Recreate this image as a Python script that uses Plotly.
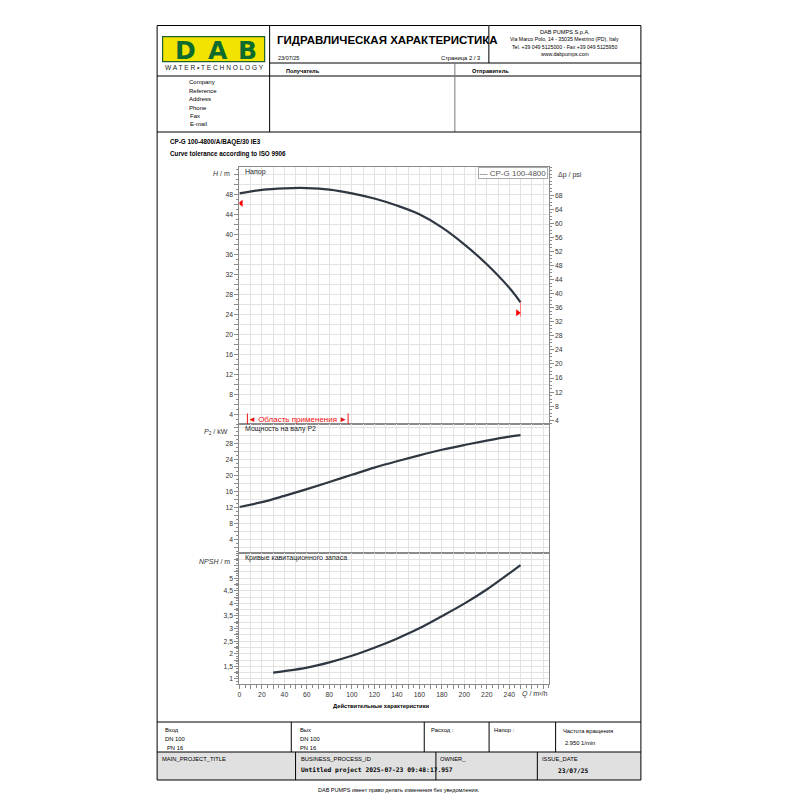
import plotly.graph_objects as go

# ---------------- data ----------------
Q_H = [0, 20, 40, 60, 80, 100, 120, 140, 160, 180, 200, 220, 240, 250]
H_m = [48.2, 48.9, 49.2, 49.25, 48.95, 48.2, 47.15, 45.75, 44.0, 41.4, 38.0, 34.0, 29.3, 26.4]

Q_P = [0, 20, 40, 60, 80, 100, 120, 140, 160, 180, 200, 220, 240, 250]
P2_kW = [12.1, 13.3, 14.9, 16.6, 18.4, 20.2, 22.0, 23.6, 25.1, 26.5, 27.7, 28.8, 29.8, 30.2]

Q_N = [30, 40, 60, 80, 100, 120, 140, 160, 180, 200, 220, 240, 250]
NPSH_m = [1.25, 1.31, 1.45, 1.66, 1.92, 2.24, 2.6, 3.01, 3.49, 3.99, 4.55, 5.19, 5.52]

tol_Q = [1.5, 247.5]
tol_H = [46.2, 24.3]

M_TO_PSI = 1.4223

x_vals = [0, 10, 20, 30, 40, 50, 60, 70, 80, 90, 100, 110, 120, 130, 140, 150, 160, 170,
          180, 190, 200, 210, 220, 230, 240, 250, 260, 270]
x_text = ["0", "", "20", "", "40", "", "60", "", "80", "", "100", "", "120", "", "140", "",
          "160", "", "180", "", "200", "", "220", "", "240", "", "", ""]

h_vals = [2, 4, 6, 8, 10, 12, 14, 16, 18, 20, 22, 24, 26, 28, 30, 32, 34, 36, 38, 40, 42, 44, 46, 48, 50, 52]
h_text = ["", "4", "", "8", "", "12", "", "16", "", "20", "", "24", "", "28", "", "32", "",
          "36", "", "40", "", "44", "", "48", "", ""]

psi_vals = [4, 8, 12, 16, 20, 24, 28, 32, 36, 40, 44, 48, 52, 56, 60, 64, 68]
psi_text = ["4", "8", "12", "16", "20", "24", "28", "32", "36", "40", "44", "48", "52", "56",
            "60", "64", "68"]

p_vals = [2, 4, 6, 8, 10, 12, 14, 16, 18, 20, 22, 24, 26, 28, 30, 32]
p_text = ["", "4", "", "8", "", "12", "", "16", "", "20", "", "24", "", "28", "", ""]

n_vals = [1, 1.25, 1.5, 1.75, 2, 2.25, 2.5, 2.75, 3, 3.25, 3.5, 3.75, 4, 4.25, 4.5, 4.75, 5, 5.25, 5.5, 5.75]
n_text = ["1", "", "1,5", "", "2", "", "2,5", "", "3", "", "3,5", "", "4", "", "4,5", "", "5", "", "", ""]

H_RANGE = [2.06, 53.46]
P_RANGE = [0.5, 33.0]
N_RANGE = [0.8, 6.0]
Q_RANGE = [0, 275]

FONT = "Liberation Sans"
W = 800


def px(x):
    return x / W


def py(y):
    return 1 - y / W


fig = go.Figure()

CURVE = "#2f3842"
fig.add_trace(go.Scatter(x=Q_H, y=H_m, mode="lines", line=dict(color=CURVE, width=2.2, shape="spline"),
                         xaxis="x", yaxis="y", showlegend=False, hoverinfo="skip"))
# same curve in psi, invisible, so that the right-hand axis is drawn
fig.add_trace(go.Scatter(x=Q_H, y=[h * M_TO_PSI for h in H_m], mode="lines", opacity=0,
                         line=dict(color=CURVE, width=1), xaxis="x", yaxis="y2", showlegend=False,
                         hoverinfo="skip"))
fig.add_trace(go.Scatter(x=[Q_H[-1], Q_H[-1]], y=[H_m[-1], tol_H[1] - 0.8], mode="lines",
                         line=dict(color="#ff8080", width=1), xaxis="x", yaxis="y", showlegend=False))
fig.add_trace(go.Scatter(x=[tol_Q[0]], y=[tol_H[0]], mode="markers",
                         marker=dict(symbol="triangle-left", color="#ff0000", size=6),
                         xaxis="x", yaxis="y", showlegend=False))
fig.add_trace(go.Scatter(x=[tol_Q[1]], y=[tol_H[1]], mode="markers",
                         marker=dict(symbol="triangle-right", color="#ff0000", size=6),
                         xaxis="x", yaxis="y", showlegend=False))
fig.add_trace(go.Scatter(x=Q_P, y=P2_kW, mode="lines", line=dict(color=CURVE, width=2.2, shape="spline"),
                         xaxis="x2", yaxis="y3", showlegend=False))
fig.add_trace(go.Scatter(x=Q_N, y=NPSH_m, mode="lines", line=dict(color=CURVE, width=2.2, shape="spline"),
                         xaxis="x3", yaxis="y4", showlegend=False))

XDOM = [px(238), px(548)]
D_TOP = [py(424), py(167)]
D_PWR = [py(553), py(424)]
D_NP = [py(684), py(553)]

GRID = "#e3e3e3"
AX = "#8a8a8a"
tickfont = dict(family=FONT, size=6.8, color="#333")


def xax(anchor, labels):
    d = dict(domain=XDOM, range=Q_RANGE, anchor=anchor, tickmode="array", tickvals=x_vals,
             ticktext=x_text if labels else [""] * len(x_vals), showgrid=True, gridcolor=GRID,
             gridwidth=1, showline=True, linecolor=AX, linewidth=1, mirror=True, zeroline=False,
             tickfont=tickfont, fixedrange=True)
    if labels:
        d.update(ticks="outside", ticklen=4, tickcolor=AX,
                 minor=dict(dtick=5, tick0=0, ticks="outside", ticklen=3, tickcolor=AX, showgrid=False))
    else:
        d.update(ticks="")
    return d


def yax(dom, rng, vals, text, anchor, minor_dt):
    return dict(domain=dom, range=rng, anchor=anchor, tickmode="array", tickvals=vals, ticktext=text,
                showgrid=True, gridcolor=GRID, gridwidth=1, showline=True, linecolor=AX, linewidth=1,
                mirror=True, zeroline=False, ticks="outside", ticklen=4, tickcolor=AX, tickfont=tickfont,
                minor=dict(dtick=minor_dt, tick0=0, ticks="outside", ticklen=2, tickcolor=AX, showgrid=False),
                fixedrange=True)


layout = dict(
    width=800, height=800, margin=dict(l=0, r=0, t=0, b=0), paper_bgcolor="white", plot_bgcolor="white",
    showlegend=False, font=dict(family=FONT, color="#000"),
    xaxis=xax("y", False), xaxis2=xax("y3", False), xaxis3=xax("y4", True),
    yaxis=yax(D_TOP, H_RANGE, h_vals, h_text, "x", 1),
    yaxis2=dict(overlaying="y", side="right", anchor="x", range=[H_RANGE[0] * M_TO_PSI, H_RANGE[1] * M_TO_PSI],
                tickmode="array", tickvals=psi_vals, ticktext=psi_text, showgrid=False, zeroline=False,
                showline=False, ticks="outside", ticklen=4, tickcolor=AX, tickfont=tickfont,
                minor=dict(dtick=1, tick0=0, ticks="outside", ticklen=2, tickcolor=AX), fixedrange=True),
    yaxis3=yax(D_PWR, P_RANGE, p_vals, p_text, "x2", 1),
    yaxis4=yax(D_NP, N_RANGE, n_vals, n_text, "x3", 0.1),
)
fig.update_layout(**layout)

ann = []


def T(x, y, text, size=6.5, anchor="left", bold=False, color="#000", family=FONT, **kw):
    if bold:
        text = "<b>" + text + "</b>"
    ann.append(dict(x=px(x), y=py(y), xref="paper", yref="paper", text=text, showarrow=False,
                    xanchor=anchor, yanchor="middle", font=dict(size=size, color=color, family=family), **kw))


# header
T(274, 40, "ГИДРАВЛИЧЕСКАЯ ХАРАКТЕРИСТИКА", 11.5, bold=True)
T(275, 58, "23/07/25", 5.5)
T(438, 58, "Страница 2 / 3", 5.8)
T(564, 31.5, "DAB PUMPS S.p.A.", 5.6, "center")
T(564, 39.5, "Via Marco Polo, 14 - 35035 Mestrino (PD), Italy", 5.2, "center")
T(564, 47, "Tel. +39 049 5125000 - Fax +39 049 5125950", 5.2, "center")
T(564, 54, "www.dabpumps.com", 5.2, "center")
T(283, 71, "Получатель", 5.6, bold=True)
T(469, 71, "Отправитель", 5.6, bold=True)
for lbl, yy, xx in [("Company", 82, 185), ("Reference", 90.5, 185), ("Address", 99, 185),
                    ("Phone", 108, 185), ("Fax", 116, 186), ("E-mail", 124, 186)]:
    T(xx, yy, lbl, 6)
# logo
T(184, 50, "D", 25, "center", bold=True, color="#0e6b2e", family="DejaVu Sans")
T(216.5, 50, "A", 25, "center", bold=True, color="#0e6b2e", family="DejaVu Sans")
T(246.5, 50, "B", 25, "center", bold=True, color="#0e6b2e", family="DejaVu Sans")
T(213, 68, "W A T E R • T E C H N O L O G Y", 6.6, "center", color="#222")

# model
T(166, 142, "CP-G 100-4800/A/BAQE/30 IE3", 6.3, bold=True)
T(166, 154, "Curve tolerance according to ISO 9906", 6.3, bold=True)

# chart labels
T(231, 173.5, "<i>H</i> / m", 7, "right", color="#333")
T(229, 432, "<i>P</i><sub>2</sub> / kW", 7, "right", color="#333")
T(231, 561, "<i>NPSH</i> / m", 7, "right", color="#333")
T(555, 174.5, "Δp / psi", 7, color="#333")
T(548, 694, "<i>Q</i> / m³/h", 7, "right", color="#333")
T(241.5, 171.5, "Напор", 7, color="#222")
T(241.5, 429, "Мощность на валу P2", 7, color="#222")
T(241.5, 558, "Кривые кавитационного запаса", 7, color="#222")
T(380, 706, "Действительные характеристики", 5.8, "center", bold=True)
T(296.5, 419, "◄ Область применения ►", 8, "center", color="#ee1111")
ann.append(dict(x=px(547), y=py(167.5), xref="paper", yref="paper", text="— CP-G 100-4800", showarrow=False,
                xanchor="right", yanchor="top", font=dict(size=8, color="#555", family=FONT),
                bordercolor="#aaaaaa", borderwidth=1, borderpad=0.5, bgcolor="white"))

# bottom table
T(161.5, 729.5, "Вход", 5.8)
T(161.5, 739, "DN 100", 5.8)
T(163, 748, "PN 16", 5.8)
T(296.5, 729.5, "Вых", 5.8)
T(296.5, 739, "DN 100", 5.8)
T(296.5, 748, "PN 16", 5.8)
T(428, 729.5, "Расход :", 5.8)
T(491.5, 729.5, "Напор :", 5.8)
T(560, 731, "Частота вращения", 5.8)
T(562, 742.5, "2.950 1/min", 5.8)
T(158, 758.5, "MAIN_PROJECT_TITLE", 5.8)
T(297.5, 758.5, "BUSINESS_PROCESS_ID", 5.8)
T(297.5, 770, "Untitled project 2025-07-23 09:48:17.957", 6.3, bold=True, family="DejaVu Sans Mono")
T(437.5, 758.5, "OWNER_", 5.8)
T(539.5, 758.5, "ISSUE_DATE", 5.8)
T(573, 770, "23/07/25", 6.3, "center", bold=True, family="DejaVu Sans Mono")
T(398, 790, "DAB PUMPS имеет право делать изменения без уведомления.", 5.5, "center")

shapes = []


def L(x0, y0, x1, y1, color="#000", width=1):
    shapes.append(dict(type="line", xref="paper", yref="paper", x0=px(x0), y0=py(y0), x1=px(x1), y1=py(y1),
                       line=dict(color=color, width=width)))


# grey row
shapes.append(dict(type="rect", xref="paper", yref="paper", x0=px(155.5), x1=px(640.5), y0=py(780),
                   y1=py(752), fillcolor="#e0e0e0", line=dict(width=0), layer="below"))
# logo box
shapes.append(dict(type="rect", xref="paper", yref="paper", x0=px(161), x1=px(263.3), y0=py(61.7),
                   y1=py(36.7), fillcolor="#f2e400", line=dict(color="#1f5f2a", width=1.2), layer="below"))
# frame
shapes.append(dict(type="rect", xref="paper", yref="paper", x0=px(155.5), x1=px(640.5), y0=py(780),
                   y1=py(25.5), line=dict(color="#000", width=1)))
L(268.3, 25.5, 268.3, 132)
L(488, 25.5, 488, 63, "#555", 1.5)
L(268.3, 63, 640.5, 63)
L(155.5, 76, 640.5, 76)
L(454, 63, 454, 132, "#777")
L(155.5, 132, 640.5, 132)
L(155.5, 722, 640.5, 722)
L(155.5, 752, 640.5, 752)
for xx in [290, 423.3, 488.3, 555]:
    L(xx, 722, xx, 752)
for xx in [294.3, 435, 536.7]:
    L(xx, 752, xx, 780)
# application-range bracket
L(246, 413.5, 246, 424, "#ee1111", 1)
L(347, 413.5, 347, 424, "#ee1111", 1)

fig.update_layout(annotations=ann, shapes=shapes)
fig.write_html("out.html")
